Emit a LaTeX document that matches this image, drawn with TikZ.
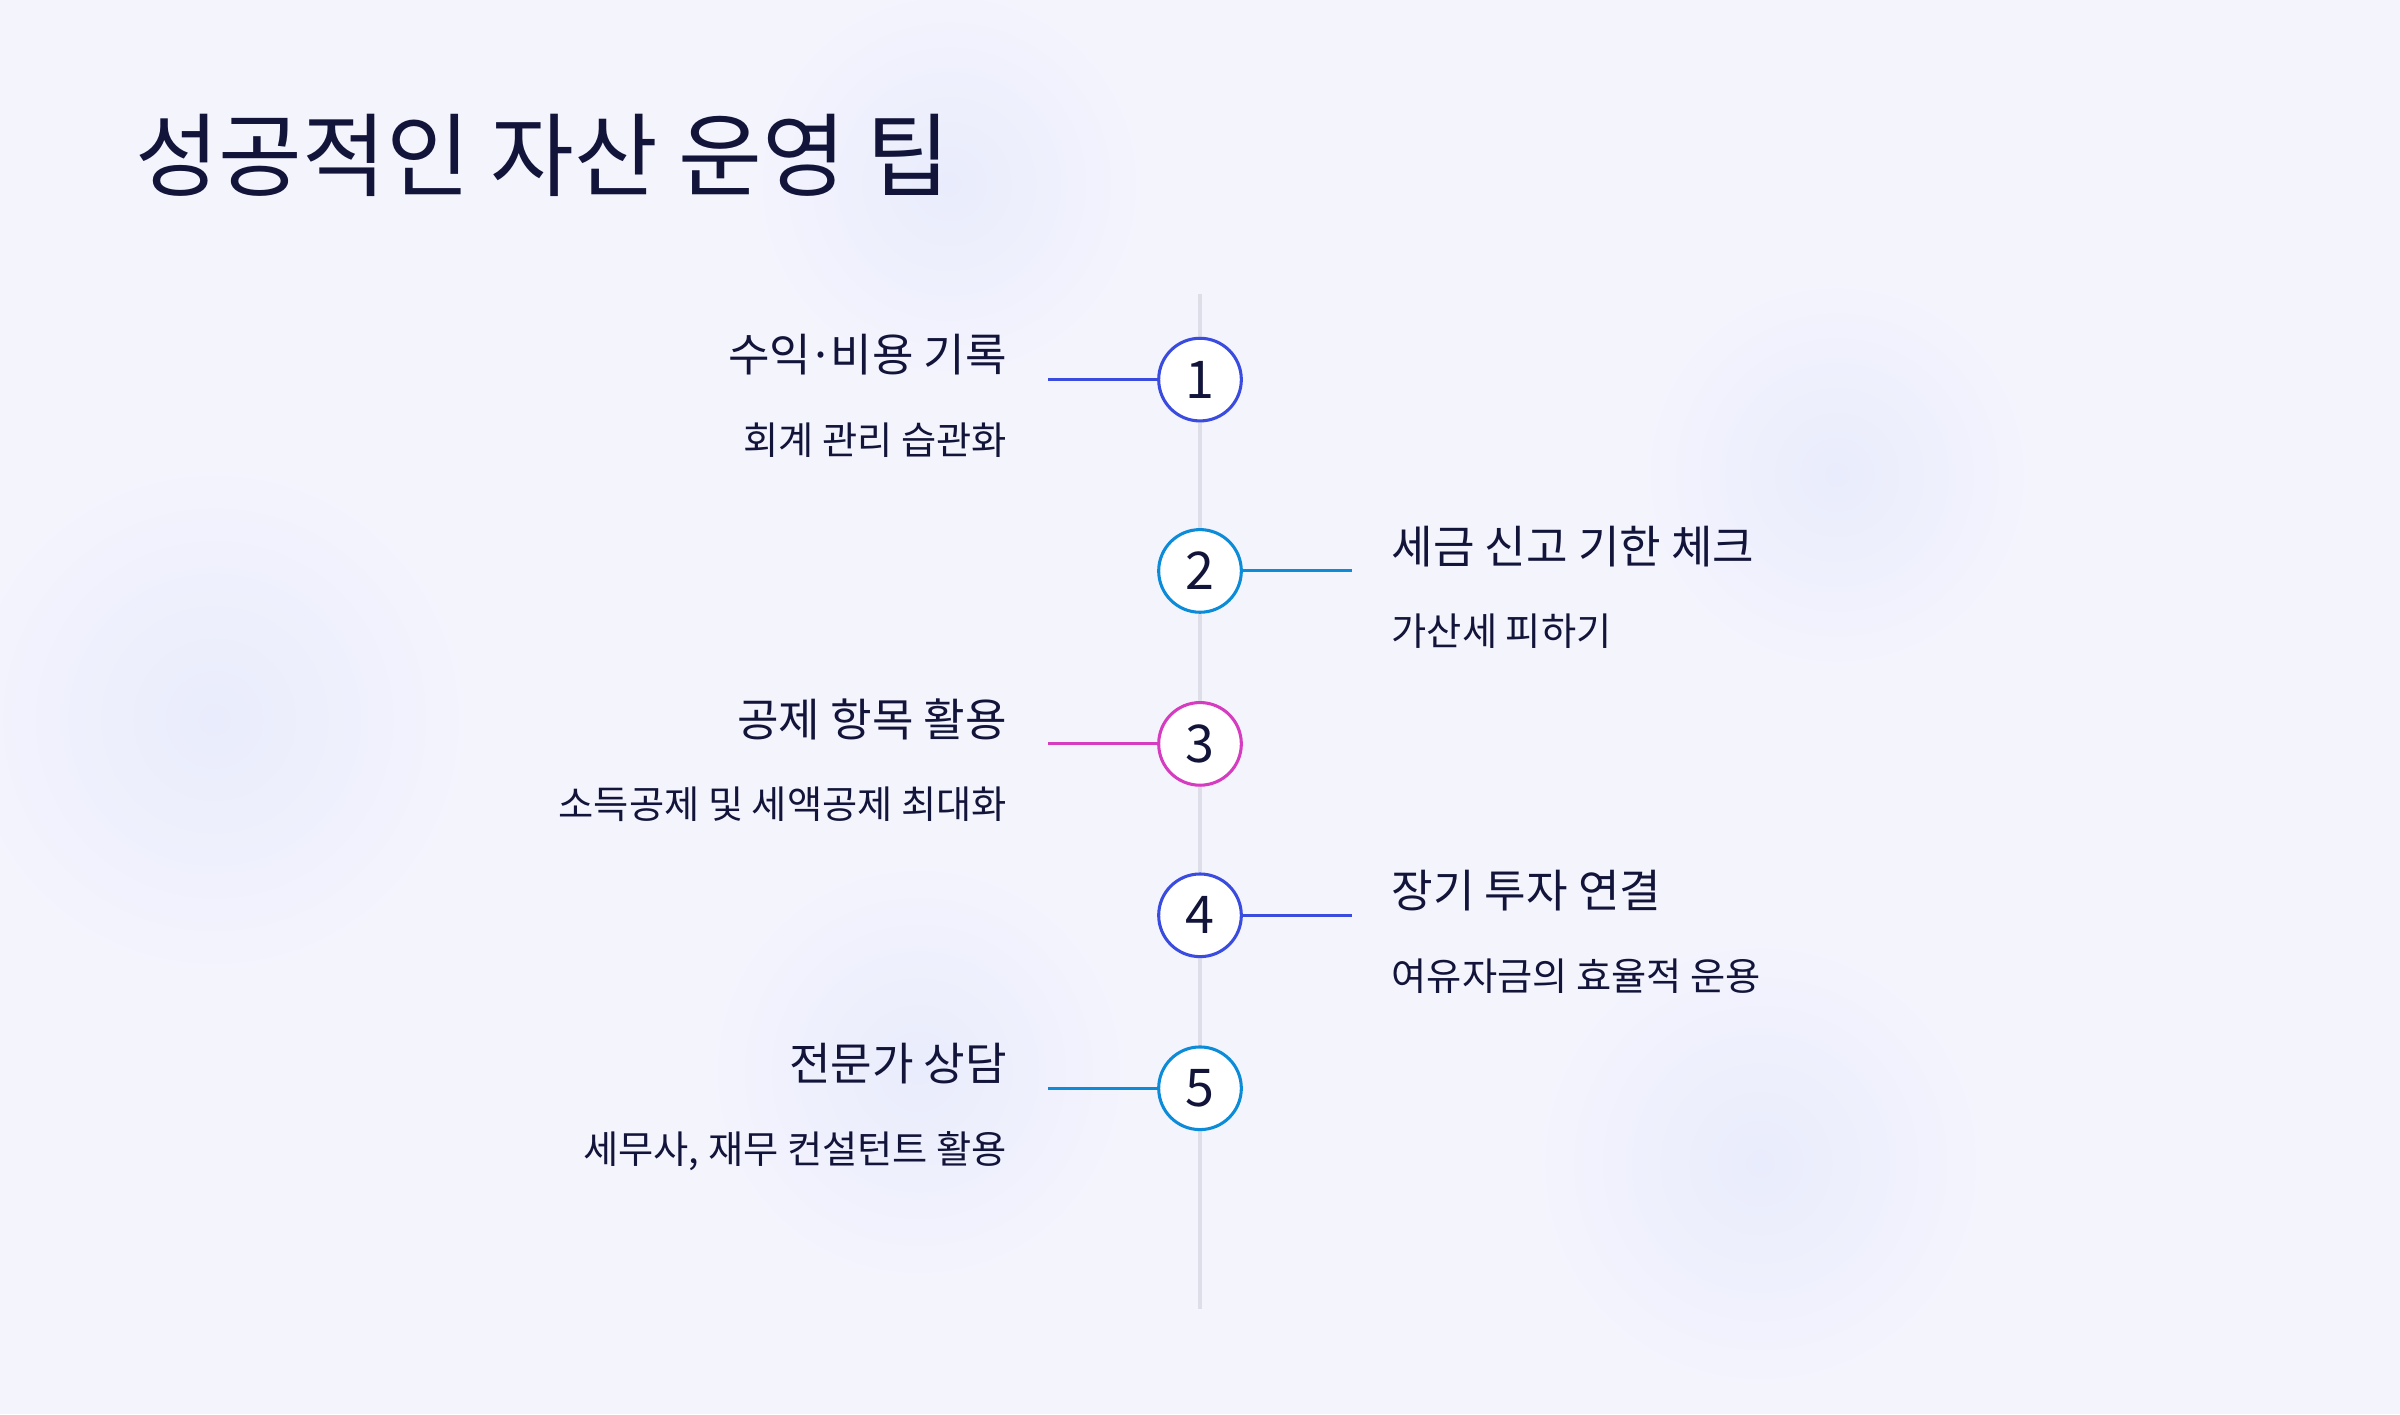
\documentclass[tikz,border=0pt]{standalone}
\usepackage{fontspec}
\newfontfamily\cjk{Noto Sans CJK KR}
\definecolor{bg}{RGB}{244,244,253}
\definecolor{ink}{RGB}{18,20,58}
\definecolor{cA}{RGB}{58,76,224}
\definecolor{cB}{RGB}{12,140,216}
\definecolor{cC}{RGB}{214,60,192}
\definecolor{tl}{RGB}{222,222,232}
\definecolor{blob}{RGB}{233,236,252}
\begin{document}
\begin{tikzpicture}[x=1pt,y=-1pt,
  num/.style={circle,draw=#1,line width=2pt,fill=white,minimum size=54pt,inner sep=0pt,font=\cjk\fontsize{34}{34}\selectfont,text=ink},
  conn/.style={draw=#1,line width=2pt},
  head/.style={font=\cjk\fontsize{29.5}{30}\selectfont,text=ink,inner sep=0pt},
  sub/.style={font=\cjk\fontsize{25}{26}\selectfont,text=ink,inner sep=0pt}]
\fill[bg] (0,0) rectangle (1568,924);
\useasboundingbox (0,0) rectangle (1568,924);
\foreach \x/\y/\r in {140/470/170,1200/310/130,1150/760/150,620/120/130,600/700/140}
  \shade[inner color=blob,outer color=bg] (\x,\y) circle (\r);
\node[anchor=base west,font=\cjk\fontsize{59.5}{60}\selectfont,text=ink,inner sep=0pt] (title) at (88,124) {성공적인 자산 운영 팁};
\coordinate (ttop) at (784,192); \coordinate (tbot) at (784,855);
\draw[tl,line width=2pt] (ttop) -- (tbot);
\node[num=cA] (n1) at (784,248) {1};
\node[num=cB] (n2) at (784,373) {2};
\node[num=cC] (n3) at (784,486) {3};
\node[num=cA] (n4) at (784,598) {4};
\node[num=cB] (n5) at (784,711) {5};
\coordinate (e1) at (685,248); \coordinate (e2) at (883,373); \coordinate (e3) at (685,486);
\coordinate (e4) at (883,598); \coordinate (e5) at (685,711);
\draw[conn=cA] (e1) -- (n1); \draw[conn=cB] (n2) -- (e2); \draw[conn=cC] (e3) -- (n3);
\draw[conn=cA] (n4) -- (e4); \draw[conn=cB] (e5) -- (n5);
\node[head,anchor=base east] (h1) at (658,243) {수익\kern-2pt·\kern-2pt비용 기록};
\node[sub,anchor=base east] (s1) at (658,297) {회계 관리 습관화};
\node[head,anchor=base west] (h2) at (909,368) {세금 신고 기한 체크};
\node[sub,anchor=base west] (s2) at (909,422) {가산세 피하기};
\node[head,anchor=base east] (h3) at (658,481) {공제 항목 활용};
\node[sub,anchor=base east] (s3) at (658,535) {소득공제 및 세액공제 최대화};
\node[head,anchor=base west] (h4) at (909,593) {장기 투자 연결};
\node[sub,anchor=base west] (s4) at (909,647) {여유자금의 효율적 운용};
\node[head,anchor=base east] (h5) at (658,706) {전문가 상담};
\node[sub,anchor=base east] (s5) at (658,760) {세무사, 재무 컨설턴트 활용};
\end{tikzpicture}
\end{document}
